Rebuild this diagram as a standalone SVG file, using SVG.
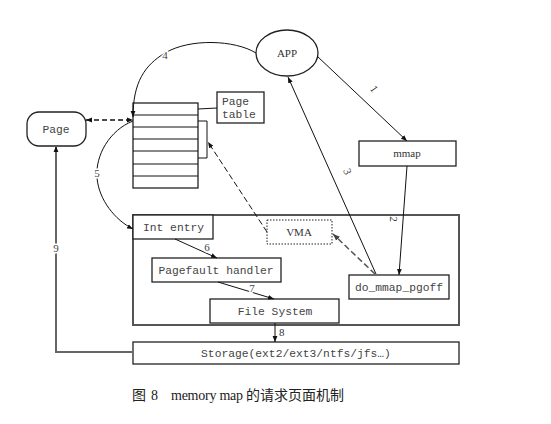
<svg xmlns="http://www.w3.org/2000/svg" width="551" height="424" viewBox="0 0 551 424">
<style>
.box{fill:#fff;stroke:#222;stroke-width:1.3}
.gbox{fill:none;stroke:#555;stroke-width:2}
.mono{font-family:"Liberation Mono","DejaVu Sans Mono",monospace;font-size:11.3px;fill:#444}
.ser{font-family:"Liberation Serif","DejaVu Serif",serif;font-size:11px;fill:#333}
.ln{fill:none;stroke:#111;stroke-width:1}
.lbl{font-family:"Liberation Serif","DejaVu Serif",serif;font-size:11px;fill:#444;stroke:#fff;stroke-width:3;paint-order:stroke;text-anchor:middle}
.cap{font-size:14px;fill:#222}
</style>
<defs>
<marker id="ah" viewBox="0 0 10 10" refX="10" refY="5" markerWidth="6" markerHeight="6" orient="auto-start-reverse" markerUnits="userSpaceOnUse">
<path d="M0,1 L10,5 L0,9 z" fill="#111"/>
</marker>
<marker id="ahg" viewBox="0 0 10 10" refX="10" refY="5" markerWidth="7" markerHeight="7" orient="auto-start-reverse" markerUnits="userSpaceOnUse">
<path d="M0,1 L10,5 L0,9 z" fill="#444"/>
</marker>
</defs>
<rect width="551" height="424" fill="#fff"/>

<g id="kernel-box"><rect class="gbox" x="133" y="215" width="326" height="110"/></g>

<g id="page"><rect class="box" x="27" y="112" width="59" height="34" rx="12"/><text class="mono" x="56" y="133" text-anchor="middle">Page</text></g>

<g id="page-table">
<rect class="box" x="133" y="103" width="65" height="85"/>
<path class="ln" d="M133,115H198M133,127H198M133,139H198M133,151H198M133,164H198M133,176H198"/>
<path class="ln" d="M198,121H207V158H198"/>
</g>

<g id="page-table-label"><rect class="box" x="217" y="92" width="47" height="31"/><text class="mono" x="222" y="105">Page</text><text class="mono" x="222" y="118">table</text></g>
<line class="ln" x1="198" y1="109" x2="217" y2="108"/>

<g id="app"><ellipse class="box" cx="287" cy="53" rx="31" ry="23"/><text class="ser" x="287" y="57" text-anchor="middle">APP</text></g>

<g id="mmap"><rect class="box" x="359" y="141" width="97" height="25"/><text class="ser" x="407" y="157" text-anchor="middle">mmap</text></g>

<g id="int-entry"><rect class="box" x="133" y="215" width="80" height="24"/><text class="mono" x="143" y="231">Int entry</text></g>

<g id="vma"><rect x="267" y="220" width="65" height="24" fill="#fff" stroke="#222" stroke-width="1" stroke-dasharray="1.5,1.5"/><text class="ser" x="299" y="236" text-anchor="middle">VMA</text></g>

<g id="pagefault-handler"><rect class="box" x="152" y="258" width="129" height="24"/><text class="mono" x="216" y="274" text-anchor="middle">Pagefault handler</text></g>

<g id="do-mmap-pgoff"><rect class="box" x="349" y="275" width="100" height="24"/><text class="mono" x="399" y="291" text-anchor="middle">do_mmap_pgoff</text></g>

<g id="file-system"><rect class="box" x="210" y="299" width="129" height="24"/><text class="mono" x="275" y="315" text-anchor="middle">File System</text></g>

<g id="storage"><rect class="box" x="133" y="342" width="326" height="22"/><text class="mono" x="296" y="357" text-anchor="middle" fill="#666">Storage(ext2/ext3/ntfs/jfs…)</text></g>

<g id="connectors">
<path class="ln" d="M256,53 C235,40 190,38 165,53 C145,65 133,82 133,117" marker-end="url(#ah)"/>
<text class="lbl" x="165" y="59">4</text>
<path class="ln" d="M133,121 C110,130 95,155 97,178 C99,200 115,220 133,229" marker-end="url(#ah)"/>
<text class="lbl" x="97" y="177">5</text>
<line x1="86" y1="120" x2="133" y2="120" stroke="#111" stroke-width="1.3" stroke-dasharray="5,3" marker-start="url(#ah)" marker-end="url(#ah)"/>
<line x1="267" y1="232" x2="208" y2="142" stroke="#111" stroke-width="1" stroke-dasharray="6,3" marker-end="url(#ah)"/>
<line class="ln" x1="317" y1="56" x2="407" y2="141" marker-end="url(#ah)"/>
<text class="ser" transform="translate(371,91) rotate(55)" text-anchor="middle">1</text>
<line class="ln" x1="407" y1="166" x2="399" y2="275" marker-end="url(#ah)"/>
<text class="ser" transform="translate(390,219) rotate(90)" text-anchor="middle">2</text>
<line class="ln" x1="376" y1="274" x2="288" y2="77" marker-end="url(#ah)"/>
<text class="ser" transform="translate(344,173) rotate(66)" text-anchor="middle">3</text>
<line x1="375" y1="274" x2="333" y2="234" stroke="#555" stroke-width="1.5" stroke-dasharray="6,3" marker-end="url(#ahg)"/>
<line class="ln" x1="175" y1="239" x2="217" y2="258" stroke-width="1.3" marker-end="url(#ah)"/>
<text class="lbl" x="207" y="251">6</text>
<line class="ln" x1="218" y1="282" x2="274" y2="299" stroke-width="1.3" marker-end="url(#ah)"/>
<text class="lbl" x="252" y="292">7</text>
<line class="ln" x1="275" y1="323" x2="275" y2="342" marker-end="url(#ah)"/>
<text class="ser" x="279" y="336">8</text>
<path d="M133,352 H56 V146" fill="none" stroke="#666" stroke-width="2" marker-end="url(#ah)"/>
<text class="lbl" x="56" y="252">9</text>
</g>

<g id="caption" class="cap">
<text x="132" y="400" font-family="'Noto Sans CJK SC',sans-serif">图</text>
<text x="151" y="400" font-family="'Liberation Serif',serif">8</text>
<text x="171" y="400" font-family="'Liberation Serif',serif" textLength="72">memory map</text>
<text x="246" y="400" font-family="'Noto Sans CJK SC',sans-serif">的请求页面机制</text>
</g>
</svg>
